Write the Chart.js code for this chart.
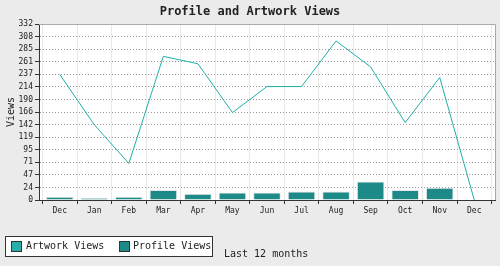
<!DOCTYPE html>
<html>
<head>
<meta charset="utf-8">
<script src="https://cdn.jsdelivr.net/npm/chart.js@4.4.1/dist/chart.umd.min.js"></script>
<style>
    body { margin: 0; background: #ebebeb; font-family: "DejaVu Sans Mono", monospace; }
    .wrap { position: relative; width: 500px; height: 266px; }
    .title { position: absolute; left: 0; top: 4px; width: 500px; text-align: center; font-weight: bold; font-size: 12px; color: #222; }
    .legend { position: absolute; left: 5px; top: 236px; width: 206px; height: 19px; border: 1px solid #333; background: #fff; font-size: 10px; color: #222; white-space: nowrap; }
    .legend span.sw { position: absolute; top: 4px; width: 9px; height: 9px; border: 1px solid #333; }
    .legend span.tx { position: absolute; top: 3px; }
    .note { position: absolute; left: 224px; top: 248px; font-size: 10px; color: #222; white-space: nowrap; }
</style>
</head>
<body>
<div class="wrap">
    <canvas id="viewsChart" width="500" height="266"></canvas>
    <div class="title">Profile and Artwork Views</div>
    <div class="legend">
        <span class="sw" style="left:5px;background:#2aaeaa"></span><span class="tx" style="left:20px">Artwork Views</span>
        <span class="sw" style="left:113px;background:#1e8a87"></span><span class="tx" style="left:127px">Profile Views</span>
    </div>
    <div class="note">Last 12 months</div>
</div>
<script>
const months = ['Dec', 'Jan', 'Feb', 'Mar', 'Apr', 'May', 'Jun', 'Jul', 'Aug', 'Sep', 'Oct', 'Nov', 'Dec'];
const artworkViews = [237, 142, 69, 271, 257, 165, 214, 214, 300, 251, 146, 231, 0];
const profileViews = [6, 4, 6, 19, 12, 14, 14, 16, 16, 35, 19, 23, 0];
const yTickLabels = ['0', '24', '47', '71', '95', '119', '142', '166', '190', '214', '237', '261', '285', '308', '332'];
const yMax = 332;

(function () {
    const font = { family: '"DejaVu Sans Mono", monospace', size: 8 };

    const plotFrame = {
        id: 'plotFrame',
        beforeDraw(chart) {
            const a = chart.chartArea, ctx = chart.ctx;
            ctx.save();
            ctx.fillStyle = '#fff';
            ctx.fillRect(a.left, a.top, a.right - a.left, a.bottom - a.top);
            ctx.restore();
        },
        afterDraw(chart) {
            const a = chart.chartArea, ctx = chart.ctx;
            ctx.save();
            ctx.strokeStyle = '#aaa';
            ctx.lineWidth = 1;
            ctx.beginPath();
            ctx.moveTo(a.left, a.top + 0.5);
            ctx.lineTo(a.right + 0.5, a.top + 0.5);
            ctx.lineTo(a.right + 0.5, a.bottom);
            ctx.stroke();
            ctx.restore();
        }
    };

    new Chart(document.getElementById('viewsChart'), {
        type: 'line',
        data: {
            datasets: [{
                type: 'line',
                label: 'Artwork Views',
                data: artworkViews.map((v, i) => ({ x: i, y: v })),
                borderColor: '#20b0ab',
                borderWidth: 1,
                pointRadius: 0,
                tension: 0,
                order: 0
            }, {
                type: 'bar',
                label: 'Profile Views',
                data: profileViews.map((v, i) => ({ x: i, y: v })),
                backgroundColor: '#1e8a87',
                borderColor: '#e6e6e6',
                borderWidth: 1,
                barPercentage: 1,
                categoryPercentage: 0.8,
                order: 1
            }]
        },
        options: {
            responsive: false,
            animation: false,
            layout: { padding: { top: 24, right: 5, left: 0, bottom: 0 } },
            plugins: {
                legend: { display: false },
                tooltip: { enabled: false }
            },
            scales: {
                x: {
                    type: 'linear',
                    min: -0.6,
                    max: 12.6,
                    offset: false,
                    afterFit: scale => { scale.height = 66; },
                    ticks: {
                        stepSize: 1,
                        includeBounds: false,
                        autoSkip: false,
                        maxRotation: 0,
                        padding: 2,
                        font: font,
                        color: '#222',
                        callback: v => Number.isInteger(v) ? months[v] : ''
                    },
                    grid: { color: '#e8e8e8', tickColor: '#333', tickLength: 4 },
                    border: { color: '#333' }
                },
                y: {
                    min: 0,
                    max: yMax,
                    afterFit: scale => { scale.width = 39; },
                    afterBuildTicks: scale => {
                        scale.ticks = yTickLabels.map((l, i) => ({ value: i * yMax / (yTickLabels.length - 1) }));
                    },
                    ticks: {
                        autoSkip: false,
                        padding: 2,
                        font: font,
                        color: '#222',
                        callback: (v, i) => yTickLabels[i]
                    },
                    grid: { color: '#999', tickColor: '#333', tickLength: 4, tickBorderDash: [] },
                    border: { color: '#333', dash: [1, 2] },
                    title: {
                        display: true,
                        text: 'Views',
                        font: { family: '"DejaVu Sans Mono", monospace', size: 10 },
                        color: '#222',
                        padding: { top: 5, bottom: 0 }
                    }
                }
            }
        },
        plugins: [plotFrame]
    });
})();
</script>
</body>
</html>
